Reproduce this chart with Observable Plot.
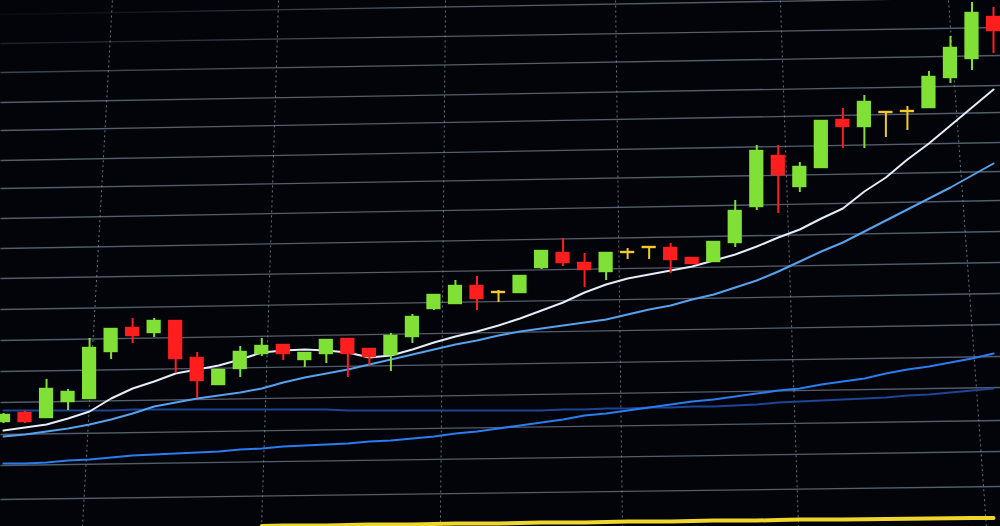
<!DOCTYPE html>
<html>
<head>
<meta charset="utf-8">
<script src="https://cdn.jsdelivr.net/npm/d3@7"></script>
<script src="https://cdn.jsdelivr.net/npm/@observablehq/plot@0.6"></script>
<style>
  html, body { margin: 0; padding: 0; background: #000; overflow: hidden; }
</style>
</head>
<body>
<div id="chart"></div>
<script>
// Candles (one per bar, left to right)
const opens  = [110.5,111.3,110.9,112.5,112.8,117.5,119.8,119.4,120.5,116.8,114.2,115.8,117.3,118.1,116.7,117.3,118.7,117.7,117.2,119.0,121.8,122.3,124.0,123.4,123.4,125.9,127.3,126.3,125.5,127.4,127.9,127.8,126.8,126.5,128.4,132.0,137.0,134.0,135.9,140.6,140.0,141.4,141.5,141.9,144.9,146.8,150.9];
const closes = [111.1,110.5,113.7,113.4,117.8,119.7,119.1,120.5,116.8,114.6,115.6,117.4,118.0,117.3,117.3,118.6,117.3,117.0,119.0,120.9,123.1,124.0,122.8,123.4,125.0,127.5,126.4,125.7,127.3,127.4,127.9,126.7,126.3,128.4,131.5,137.5,135.2,135.9,140.5,140.0,142.4,141.4,141.5,144.9,147.8,151.3,149.6];
const highs  = [111.3,111.5,114.7,113.7,118.8,119.7,120.8,120.8,120.5,117.4,115.6,118.0,118.8,118.1,117.3,118.6,118.7,117.7,119.3,121.2,123.1,124.6,125.0,123.6,125.0,127.5,128.8,127.3,127.3,127.8,127.9,128.3,126.8,128.4,132.6,138.1,138.1,136.4,140.5,141.8,143.1,141.4,142.0,145.5,149.0,152.4,151.9];
const lows   = [110.3,110.3,110.9,111.6,112.8,116.7,118.3,118.9,115.3,112.8,114.2,114.9,117.0,116.6,115.9,116.3,114.9,116.1,115.5,118.3,121.6,122.3,121.6,122.4,123.3,125.7,126.0,123.9,124.6,126.7,126.7,125.3,126.3,126.5,127.9,131.6,131.3,133.4,135.9,137.8,137.8,138.9,139.6,141.9,144.3,145.6,147.3];

// Moving averages (one value per bar)
const ma5  = [109.6,109.9,110.2,110.8,111.5,112.8,113.8,114.5,115.3,115.7,116.1,116.7,117.4,117.6,117.7,117.6,117.4,116.9,117.1,117.7,118.4,119.0,119.5,120.1,120.8,121.6,122.4,123.4,124.2,124.8,125.2,125.6,126.0,126.6,127.2,128.0,128.9,129.7,130.8,131.8,133.5,134.9,136.7,138.3,140.1,141.9,143.7];
const ma10 = [109.0,109.2,109.5,109.8,110.2,110.7,111.3,112.0,112.4,112.8,113.1,113.4,113.8,114.4,114.9,115.3,115.7,116.2,116.7,117.2,117.7,118.2,118.6,119.1,119.5,119.8,120.1,120.4,120.7,121.2,121.7,122.1,122.7,123.2,123.9,124.6,125.5,126.5,127.5,128.4,129.5,130.6,131.7,132.8,133.9,135.1,136.3];
const ma30 = [106.3,106.3,106.4,106.6,106.7,106.9,107.1,107.2,107.3,107.4,107.5,107.7,107.8,108.0,108.1,108.2,108.3,108.5,108.6,108.8,109.0,109.3,109.5,109.8,110.1,110.4,110.7,111.1,111.3,111.6,111.9,112.2,112.5,112.7,113.0,113.3,113.6,113.8,114.2,114.5,114.8,115.3,115.7,116.0,116.4,116.8,117.3];
const ma60 = [111.6,111.6,111.6,111.6,111.6,111.6,111.7,111.7,111.7,111.7,111.7,111.7,111.7,111.7,111.7,111.7,111.6,111.6,111.6,111.6,111.6,111.6,111.6,111.6,111.6,111.6,111.7,111.7,111.8,111.8,111.9,111.9,112.0,112.0,112.1,112.2,112.4,112.5,112.6,112.7,112.8,112.9,113.1,113.2,113.4,113.6,113.8];
// Yellow line at the bottom edge (bars 12..46)
const lowerStart = 12;
const lowerLine = [100.05,100.1,100.1,100.1,100.15,100.2,100.2,100.2,100.25,100.3,100.3,100.3,100.35,100.4,100.4,100.4,100.45,100.5,100.5,100.5,100.55,100.6,100.6,100.6,100.65,100.7,100.7,100.7,100.72,100.75,100.77,100.8,100.82,100.84,100.86];

// Grid lines (screen is photographed at a slight angle)
const gridLeft  = [151.2,148.3,145.4,142.4,139.6,136.6,133.8,130.8,127.8,124.8,121.7,118.6,115.5,112.4,109.2,106.1,102.7];
const gridRight = [152.9,149.9,147.1,144.1,141.4,138.4,135.5,132.6,129.5,126.4,123.3,120.2,117.0,113.9,110.6,107.5,104.0];
const vgridTop    = [5.06,12.78,20.54,28.44,36.10,43.91];
const vgridBottom = [3.67,11.99,20.30,28.76,36.94,45.67];

const xDomain = [-0.1394, 46.325];
const yDomain = [100, 152.6];

const candles = opens.map((o, i) => ({
  i, open: o, close: closes[i], high: highs[i], low: lows[i],
  dir: closes[i] > o ? "up" : closes[i] < o ? "down" : "flat"
}));
const maRows = (arr) => arr.map((v, i) => ({i, v}));
const lower = lowerLine.map((v, k) => ({i: lowerStart + k, v}));
const hRows = gridLeft.map((l, k) => ({l, r: gridRight[k]}));
const vRows = vgridTop.map((t, k) => ({t, b: vgridBottom[k]}));
const colors = {up: "#80e035", down: "#ff1e1e", flat: "#f2c92a"};

const chart = Plot.plot({
  width: 1000, height: 526,
  marginTop: 0, marginRight: 0, marginBottom: 0, marginLeft: 0,
  style: {background: "#03040a", overflow: "hidden"},
  x: {domain: xDomain, axis: null},
  y: {domain: yDomain, axis: null},
  marks: [
    Plot.link(hRows, {x1: () => xDomain[0], x2: () => xDomain[1], y1: "l", y2: "r", stroke: "url(#gridFade)", strokeWidth: 1.3}),
    Plot.link(vRows, {x1: "t", x2: "b", y1: () => yDomain[1], y2: () => yDomain[0], stroke: "#8a96a4", strokeWidth: 1, strokeDasharray: "2,3", strokeOpacity: 0.75}),
    Plot.line(lower, {x: "i", y: "v", stroke: "#efd62a", strokeWidth: 4}),
    Plot.line(maRows(ma60), {x: "i", y: "v", stroke: "#1d4596", strokeWidth: 2}),
    Plot.line(maRows(ma30), {x: "i", y: "v", stroke: "#2a7cf0", strokeWidth: 2.2}),
    Plot.line(maRows(ma10), {x: "i", y: "v", stroke: "#55a2ee", strokeWidth: 2}),
    Plot.line(maRows(ma5), {x: "i", y: "v", stroke: "#e4ecf8", strokeWidth: 2}),
    Plot.ruleX(candles, {x: "i", y1: "low", y2: "high", stroke: d => colors[d.dir], strokeWidth: 2}),
    Plot.rect(candles, {
      x1: d => d.i - 0.33, x2: d => d.i + 0.33,
      y1: "open", y2: "close",
      fill: d => colors[d.dir],
      insetTop: -1.2, insetBottom: -1.2
    })
  ]
});

// Grid fades into the dark top-left corner of the photographed screen
const ns = "http://www.w3.org/2000/svg";
const defs = document.createElementNS(ns, "defs");
const rg = document.createElementNS(ns, "radialGradient");
rg.setAttribute("id", "gridFade");
rg.setAttribute("gradientUnits", "userSpaceOnUse");
rg.setAttribute("cx", "0"); rg.setAttribute("cy", "0"); rg.setAttribute("r", "420");
rg.setAttribute("gradientTransform", "matrix(1 0 0 0.23 0 0)");
[["0", "#03040a"], ["0.4", "#171b23"], ["0.75", "#3c4450"], ["1", "#525c6a"]].forEach(([o, c]) => {
  const s = document.createElementNS(ns, "stop");
  s.setAttribute("offset", o); s.setAttribute("stop-color", c);
  rg.appendChild(s);
});
defs.appendChild(rg);
chart.insertBefore(defs, chart.firstChild);

document.getElementById("chart").appendChild(chart);
</script>
</body>
</html>
